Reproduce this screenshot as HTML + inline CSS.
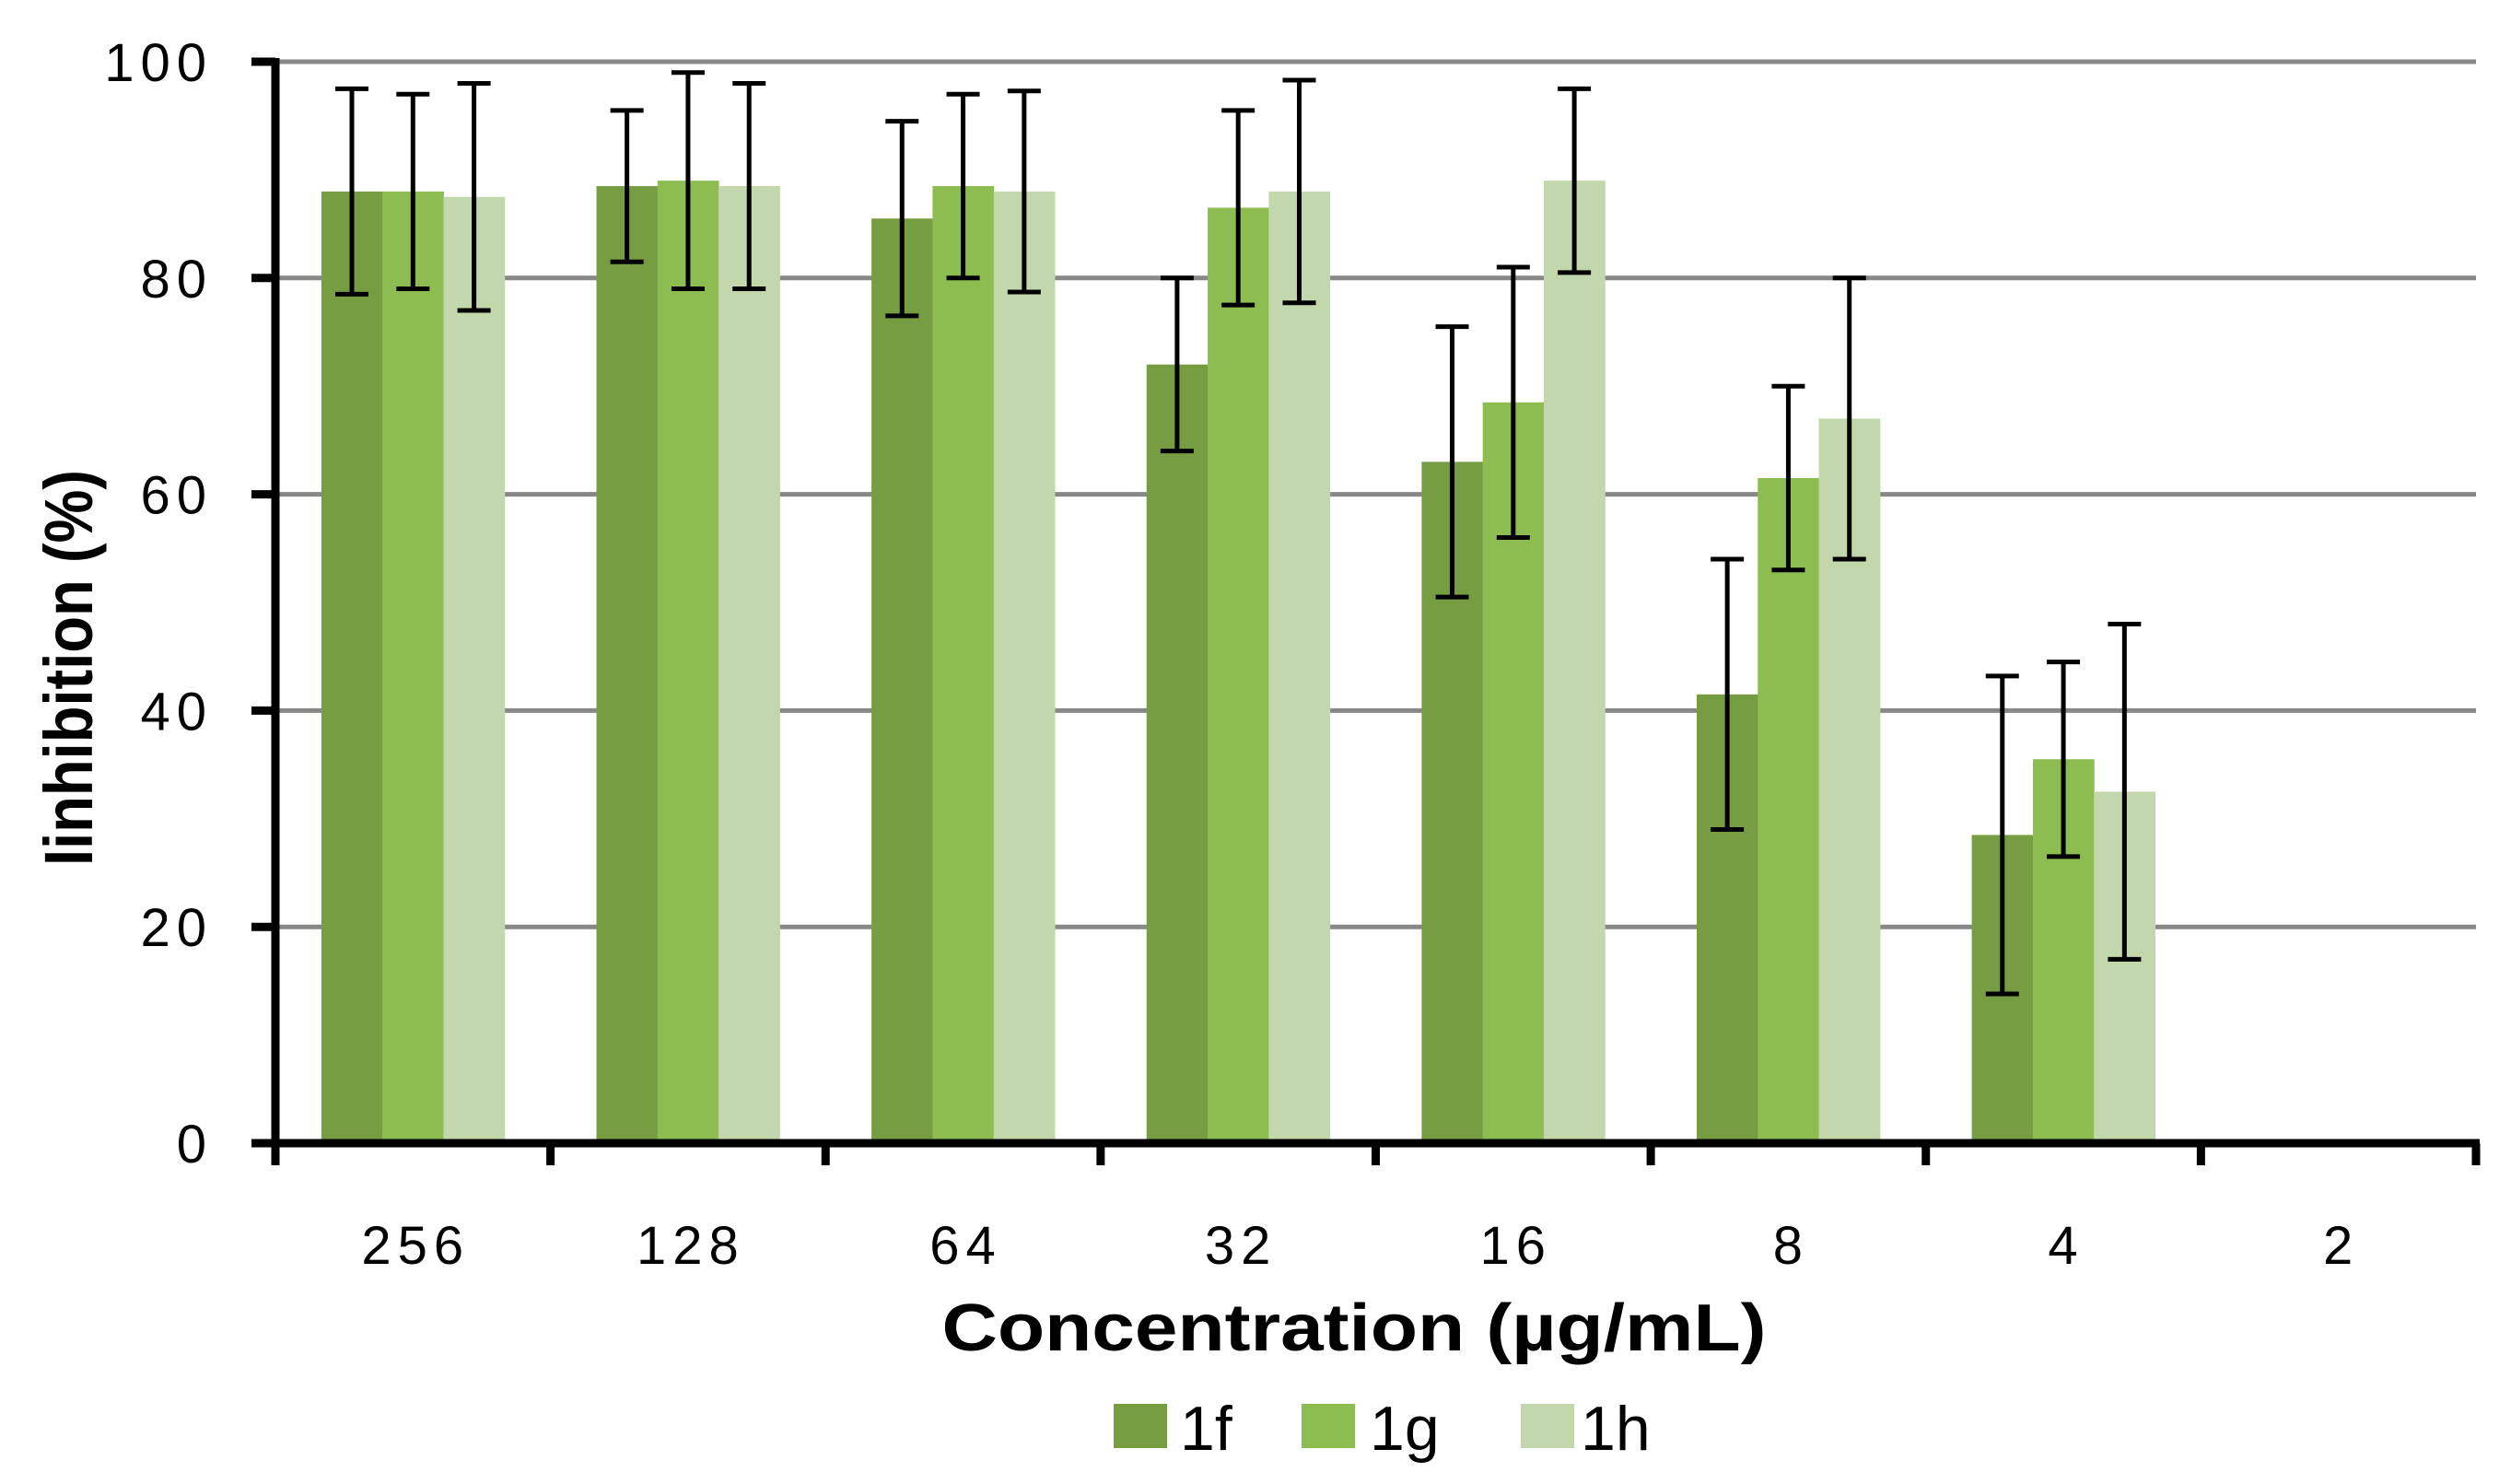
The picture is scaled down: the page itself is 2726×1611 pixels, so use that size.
<!DOCTYPE html>
<html><head><meta charset="utf-8"><style>
html,body{margin:0;padding:0;background:#fff;}
svg{display:block;}
text{font-family:"Liberation Sans",sans-serif;fill:#000;}
</style></head><body>
<svg id="chart" width="2726" height="1611" viewBox="0 0 2726 1611" xmlns="http://www.w3.org/2000/svg">
<g id="grid"></g>
<g id="bars"></g>
<g id="errs"></g>
<g id="axes"></g>
<text transform="translate(100,725) rotate(-90)" text-anchor="middle" font-size="74" font-weight="bold" textLength="430" lengthAdjust="spacingAndGlyphs">Iinhibition (%)</text>
<text x="1470" y="1466" text-anchor="middle" font-size="72" font-weight="bold" textLength="895" lengthAdjust="spacingAndGlyphs">Concentration (µg/mL)</text>
<g>
<rect x="1209" y="1524" width="58" height="48" fill="#769d41"/>
<text x="1281" y="1574" font-size="68">1f</text>
<rect x="1413" y="1524" width="58" height="48" fill="#8dbd51"/>
<text x="1487" y="1574" font-size="68">1g</text>
<rect x="1651" y="1524" width="58" height="48" fill="#c3d7ac"/>
<text x="1716" y="1574" font-size="68">1h</text>
</g>
</svg>
<script>
const categories = ["256","128","64","32","16","8","4","2"];
const series = ["1f","1g","1h"];
const values1f = [88, 88.5, 85.5, 72, 63, 41.5, 28.5, null];
const values1g = [88, 89, 88.5, 86.5, 68.5, 61.5, 35.5, null];
const values1h = [87.5, 88.5, 88, 88, 89, 67, 32.5, null];
const err1f = [9.5, 7, 9, 8, 12.5, 12.5, 14.7, null];
const err1g = [9, 10, 8.5, 9, 12.5, 8.5, 9, null];
const err1h = [10.5, 9.5, 9.3, 10.3, 8.5, 13, 15.5, null];
const yTicks = [0, 20, 40, 60, 80, 100];

const NS = "http://www.w3.org/2000/svg";
const X0 = 299, X1 = 2688, Y0 = 1241, Y1 = 67, YMAX = 100;
const colors = ["#769d41","#8dbd51","#c3d7ac"];
const catW = (X1 - X0) / categories.length;
const barW = catW * 0.222;
function y(v){ return Y0 - (v / YMAX) * (Y0 - Y1); }
function xCat(i){ return X0 + i * catW; }
function mk(tag, attrs, parent){ const e = document.createElementNS(NS, tag); for (const k in attrs) e.setAttribute(k, attrs[k]); parent.appendChild(e); return e; }

const grid = document.getElementById("grid");
const bars = document.getElementById("bars");
const errs = document.getElementById("errs");
const axes = document.getElementById("axes");

yTicks.forEach(t => {
  if (t > 0) {
    const g = mk("line", {x1: X0, x2: X1, y1: y(t), y2: y(t), stroke: "#888", "stroke-width": 5}, grid);
    
    
  }
  const tk = mk("line", {x1: 273, x2: X0, y1: y(t), y2: y(t), stroke: "#000", "stroke-width": 9}, axes);
  
  
  const lb = mk("text", {x: 231, y: y(t) + 21, "text-anchor": "end", "font-size": 58, "letter-spacing": 7}, axes);
  lb.textContent = t;
  
  
});

const vals = [values1f, values1g, values1h];
const errsArr = [err1f, err1g, err1h];
categories.forEach((c, i) => {
  const start = xCat(i) + catW * 0.167;
  series.forEach((s, j) => {
    const v = vals[j][i];
    if (v === null) return;
    const bx = start + j * barW;
    const r = mk("rect", {x: bx, y: y(v), width: barW + 0.5, height: Y0 - y(v), fill: colors[j]}, bars);
    
    
    const e = errsArr[j][i];
    const cx = bx + barW / 2;
    const g = mk("g", {stroke: "#000", "stroke-width": 5}, errs);
    
    
    mk("line", {x1: cx, x2: cx, y1: y(v + e), y2: y(v - e)}, g);
    mk("line", {x1: cx - 18, x2: cx + 18, y1: y(v + e), y2: y(v + e)}, g);
    mk("line", {x1: cx - 18, x2: cx + 18, y1: y(v - e), y2: y(v - e)}, g);
  });
  const lb = mk("text", {x: xCat(i) + catW / 2 + 3, y: 1372, "text-anchor": "middle", "font-size": 58, "letter-spacing": 7}, axes);
  lb.textContent = c;
  
  
});
for (let i = 0; i <= categories.length; i++) {
  const tk = mk("line", {x1: xCat(i), x2: xCat(i), y1: Y0, y2: 1265, stroke: "#000", "stroke-width": 9}, axes);
  
  
}
const xa = mk("line", {x1: 273, x2: X1 + 4, y1: Y0, y2: Y0, stroke: "#000", "stroke-width": 9}, axes);


const ya = mk("line", {x1: X0, x2: X0, y1: Y1 - 4, y2: 1265, stroke: "#000", "stroke-width": 9}, axes);


</script>
</body></html>
